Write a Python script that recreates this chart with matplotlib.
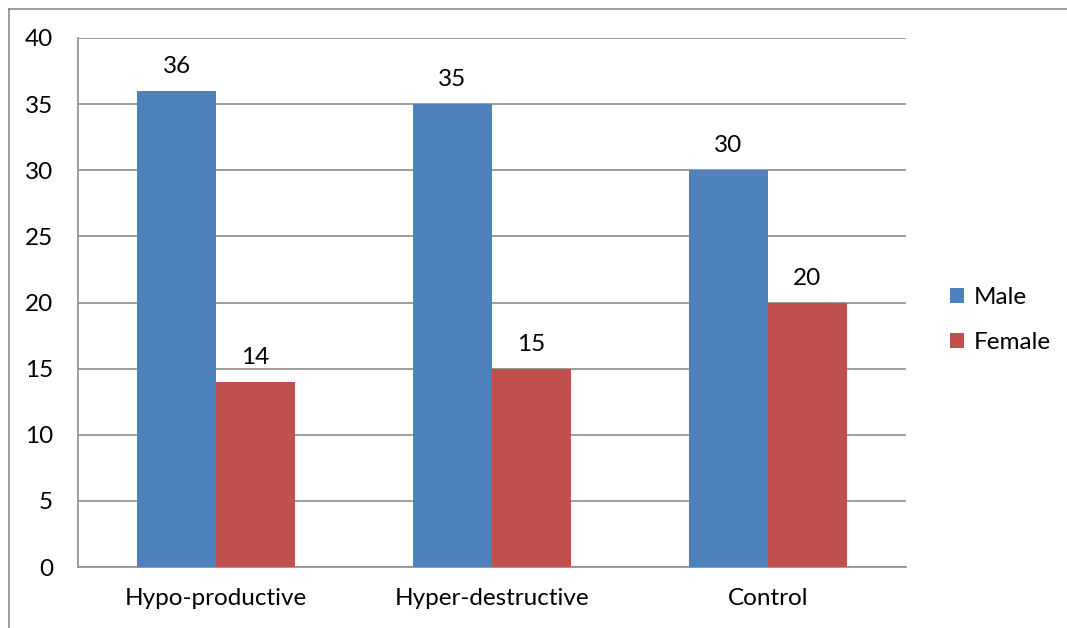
import matplotlib
matplotlib.use("Agg")
import matplotlib.pyplot as plt
from matplotlib.lines import Line2D
import numpy as np

categories = ["Hypo-productive", "Hyper-destructive", "Control"]
male = [36, 35, 30]
female = [14, 15, 20]
yticks = [0, 5, 10, 15, 20, 25, 30, 35, 40]

plt.rcParams['font.family'] = ['Lato', 'DejaVu Sans']
fs = 17.5

fig = plt.figure(figsize=(10.67, 6.28), dpi=100)
ax = fig.add_axes([78 / 1067, 61 / 628, 828 / 1067, 529 / 628])

x = np.arange(len(categories))
w = 0.286
b1 = ax.bar(x - w / 2, male, w, color="#4F81BD", label="Male", zorder=3)
b2 = ax.bar(x + w / 2, female, w, color="#C0504D", label="Female", zorder=3)

for bars in (b1, b2):
    for r in bars:
        ax.annotate(f"{r.get_height():g}", (r.get_x() + r.get_width() / 2, r.get_height()),
                    xytext=(0, 10), textcoords="offset points", ha="center", va="bottom",
                    fontsize=fs, color="black")

ax.set_xlim(-0.5, 2.5)
ax.set_ylim(0, 40)
ax.set_yticks(yticks)
ax.set_xticks(x)
ax.set_xticklabels(categories)
ax.tick_params(axis="y", length=0, pad=18, labelsize=fs)
ax.tick_params(axis="x", length=0, pad=15, labelsize=fs)
ax.grid(axis="y", color="#8c8c8c", linewidth=1.2, zorder=0)
for s in ["top", "right"]:
    ax.spines[s].set_visible(False)
for s in ["left", "bottom"]:
    ax.spines[s].set_color("#8c8c8c")
    ax.spines[s].set_linewidth(1.2)

leg = fig.legend(handles=[b1, b2], loc="center left", bbox_to_anchor=(928 / 1067, 1 - 320 / 628),
                 frameon=False, fontsize=fs, handlelength=0.6, handleheight=0.6,
                 handletextpad=0.4, labelspacing=1.0)

# outer frame: only top and left edges are visible in the original
fig.add_artist(Line2D([9 / 1067, 1], [1 - 9 / 628, 1 - 9 / 628], transform=fig.transFigure,
                      color="#8c8c8c", linewidth=1.2))
fig.add_artist(Line2D([9 / 1067, 9 / 1067], [0, 1 - 9 / 628], transform=fig.transFigure,
                      color="#8c8c8c", linewidth=1.2))

fig.savefig("out.png", dpi=100)
